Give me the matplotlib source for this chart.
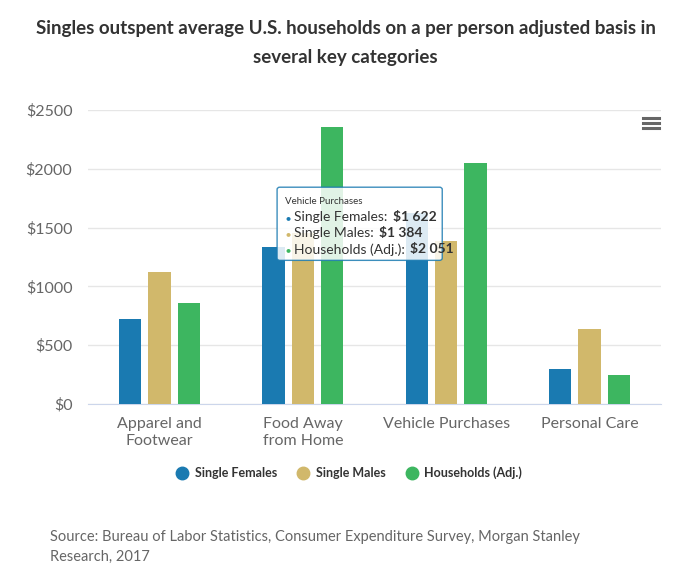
import matplotlib.pyplot as plt
from matplotlib.lines import Line2D
from matplotlib.patches import FancyBboxPatch
import numpy as np

categories = ['Apparel and\nFootwear', 'Food Away\nfrom Home', 'Vehicle Purchases', 'Personal Care']
series_names = ['Single Females', 'Single Males', 'Households (Adj.)']
single_females = [723, 1335, 1622, 298]
single_males = [1122, 1450, 1384, 638]
households = [859, 2355, 2051, 247]
colors = ['#1a7ab1', '#d1b86b', '#3db660']
yticks = [0, 500, 1000, 1500, 2000, 2500]
ytick_labels = ['$0', '$500', '$1000', '$1500', '$2000', '$2500']

plt.rcParams['font.family'] = ['Lato', 'DejaVu Sans']

fig = plt.figure(figsize=(6.91, 5.76), dpi=100)
ax = fig.add_axes([0.127, 0.2986, 0.83, 0.5105])

x = np.arange(len(categories))
width = 0.155
step = 0.205
all_series = [single_females, single_males, households]
for i, (vals, c) in enumerate(zip(all_series, colors)):
    ax.bar(x + (i - 1) * step, vals, width=width, color=c, zorder=3)

ax.set_xlim(-0.5, len(categories) - 0.5)
ax.set_ylim(0, 2500)
ax.set_yticks(yticks)
ax.set_yticklabels(ytick_labels, fontsize=11.5, color='#666666')
ax.set_xticks(x)
ax.set_xticklabels(categories, fontsize=11.5, color='#666666', linespacing=1.35)
ax.tick_params(axis='x', length=0, pad=9)
ax.tick_params(axis='y', length=0, pad=11)
ax.grid(axis='y', color='#e6e6e6', linewidth=1, zorder=0)
for s in ['top', 'right', 'left']:
    ax.spines[s].set_visible(False)
ax.spines['bottom'].set_color('#ccd6eb')

# title
fig.text(0.5, 0.951, 'Singles outspent average U.S. households on a per person adjusted basis in',
         ha='center', va='center', fontsize=13.5, fontweight='bold', color='#333333')
fig.text(0.5, 0.901, 'several key categories',
         ha='center', va='center', fontsize=13.5, fontweight='bold', color='#333333')

# legend
handles = [Line2D([], [], marker='o', linestyle='', markersize=9, color=c) for c in colors]
fig.legend(handles, series_names, loc='center', bbox_to_anchor=(0.505, 0.179), ncol=3,
           frameon=False, handletextpad=0.5, columnspacing=1.6, handlelength=1.0,
           labelcolor='#333333', prop={'weight': 'bold', 'size': 9})

# source
fig.text(0.072, 0.067, 'Source: Bureau of Labor Statistics, Consumer Expenditure Survey, Morgan Stanley',
         fontsize=10.5, color='#666666', va='center')
fig.text(0.072, 0.034, 'Research, 2017', fontsize=10.5, color='#666666', va='center')

# menu icon
for yy in [0.795, 0.786, 0.777]:
    fig.add_artist(Line2D([0.930, 0.953], [yy, yy], color='#666666', linewidth=2.2))

# tooltip for Vehicle Purchases
idx = 2
bx, by = 0.401, 0.548
w, h = 0.239, 0.127
box = FancyBboxPatch((bx, by), w, h, boxstyle='round,pad=0,rounding_size=0.004',
                     transform=fig.transFigure, facecolor='white', alpha=0.85,
                     edgecolor='#1a7ab1', linewidth=1, zorder=10)
fig.add_artist(box)
fig.text(bx + 0.012, by + h - 0.030, 'Vehicle Purchases', fontsize=7, color='#333333', zorder=11)
renderer = fig.canvas.get_renderer()
for k, (name, vals, c) in enumerate(zip(series_names, all_series, colors)):
    yy = by + h - 0.052 - k * 0.028
    fig.text(bx + 0.012, yy, '\u25cf', fontsize=6, color=c, va='center', zorder=11)
    t = fig.text(bx + 0.025, yy, name + ':', fontsize=10, color='#333333', va='center', zorder=11)
    ext = t.get_window_extent(renderer)
    x1 = fig.transFigure.inverted().transform((ext.x1, 0))[0]
    v = '${:,}'.format(vals[idx]).replace(',', ' ')
    fig.text(x1 + 0.007, yy, v, fontsize=10, color='#333333',
             va='center', fontweight='bold', zorder=11)

fig.savefig('out.png', dpi=100)
